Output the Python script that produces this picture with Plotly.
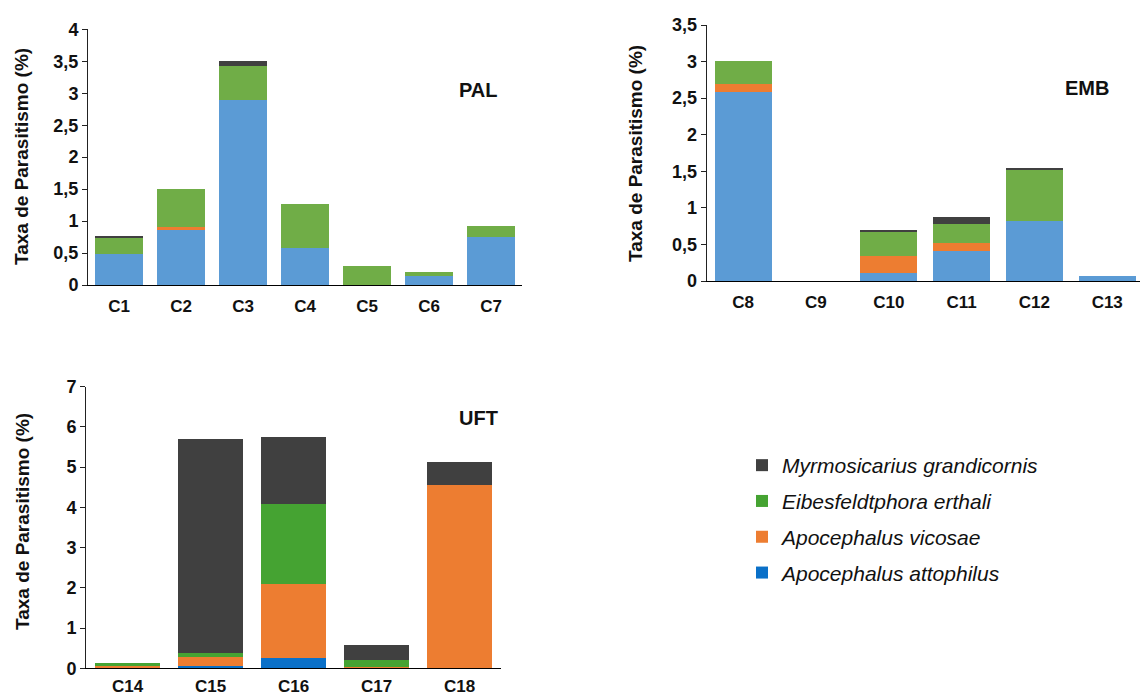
import plotly.graph_objects as go

# ---------------- data ----------------
species = ["Apocephalus attophilus", "Apocephalus vicosae",
           "Eibesfeldtphora erthali", "Myrmosicarius grandicornis"]
legend_rank = [4, 3, 2, 1]

pal_cats = ["C1", "C2", "C3", "C4", "C5", "C6", "C7"]
pal_attophilus = [0.49, 0.87, 2.89, 0.58, 0.00, 0.14, 0.75]
pal_vicosae = [0.00, 0.03, 0.00, 0.00, 0.00, 0.00, 0.00]
pal_erthali = [0.25, 0.60, 0.54, 0.68, 0.30, 0.07, 0.18]
pal_grandicornis = [0.01, 0.00, 0.07, 0.00, 0.00, 0.00, 0.00]

emb_cats = ["C8", "C9", "C10", "C11", "C12", "C13"]
emb_attophilus = [2.59, 0.00, 0.11, 0.41, 0.82, 0.07]
emb_vicosae = [0.11, 0.00, 0.23, 0.11, 0.00, 0.00]
emb_erthali = [0.31, 0.00, 0.33, 0.26, 0.70, 0.00]
emb_grandicornis = [0.00, 0.00, 0.02, 0.10, 0.03, 0.00]

uft_cats = ["C14", "C15", "C16", "C17", "C18"]
uft_attophilus = [0.03, 0.06, 0.25, 0.00, 0.00]
uft_vicosae = [0.03, 0.23, 1.84, 0.03, 4.55]
uft_erthali = [0.07, 0.08, 1.99, 0.18, 0.00]
uft_grandicornis = [0.00, 5.33, 1.68, 0.36, 0.58]

panel_labels = ["PAL", "EMB", "UFT"]
y_title = "Taxa de Parasitismo (%)"

# ---------------- styles ----------------
colors_light = ["#5B9BD5", "#ED7D31", "#70AD47", "#404040"]
colors_uft = ["#0A70C8", "#ED7D31", "#45A332", "#404040"]
FONT = "Liberation Sans, Arial, sans-serif"

fig = go.Figure()

panels = [
    (pal_cats, [pal_attophilus, pal_vicosae, pal_erthali, pal_grandicornis], "x", "y", colors_light, False),
    (emb_cats, [emb_attophilus, emb_vicosae, emb_erthali, emb_grandicornis], "x2", "y2", colors_light, False),
    (uft_cats, [uft_attophilus, uft_vicosae, uft_erthali, uft_grandicornis], "x3", "y3", colors_uft, True),
]

for cats, series, xa, ya, cols, show in panels:
    for i, (name, vals) in enumerate(zip(species, series)):
        fig.add_trace(go.Bar(
            x=cats, y=vals, name=name, xaxis=xa, yaxis=ya,
            marker=dict(color=cols[i], line=dict(width=0)),
            showlegend=show, legendgroup=name, legendrank=legend_rank[i],
        ))

xtickfont = dict(family=FONT, size=17, color="#111111", weight="bold")
ytickfont = dict(family=FONT, size=18, color="#111111", weight="bold")

def xaxis(domain, rng, anchor, ticklen=6):
    return dict(domain=domain, range=rng, anchor=anchor, showline=True,
                linecolor="#000000", linewidth=1, ticks="outside", ticklen=ticklen,
                tickcolor="rgba(0,0,0,0)", tickfont=xtickfont, showgrid=False,
                zeroline=False, fixedrange=True, automargin=False)

def yaxis(domain, rng, dtick, anchor):
    return dict(domain=domain, range=rng, dtick=dtick, anchor=anchor,
                showline=True, linecolor="#222222", linewidth=1,
                ticks="outside", ticklen=5, tickcolor="#222222",
                tickfont=ytickfont, showgrid=False, zeroline=False,
                fixedrange=True, automargin=False)

fig.update_layout(
    width=1140, height=696,
    margin=dict(l=0, r=0, t=0, b=0, autoexpand=False),
    paper_bgcolor="white", plot_bgcolor="white",
    barmode="stack", bargap=0.22,
    separators=", ",
    xaxis=xaxis([88 / 1140, 522 / 1140], [-0.5, 6.5], "y"),
    yaxis=yaxis([(696 - 285) / 696, (696 - 29.3) / 696], [0, 4], 0.5, "x"),
    xaxis2=xaxis([706.7 / 1140, 1.0], [-0.5, 5.45], "y2"),
    yaxis2=yaxis([(696 - 281) / 696, (696 - 25) / 696], [0, 3.5], 0.5, "x2"),
    xaxis3=xaxis([86 / 1140, 501 / 1140], [-0.5, 4.5], "y3", ticklen=2),
    yaxis3=yaxis([(696 - 668.3) / 696, (696 - 386.7) / 696], [0, 7], 1, "x3"),
    legend=dict(
        x=742 / 1140, y=(696 - 445) / 696, xanchor="left", yanchor="top",
        traceorder="grouped", tracegroupgap=5.5,
        font=dict(family=FONT, size=21, style="italic", color="#111111"),
        bgcolor="rgba(0,0,0,0)", itemclick=False, itemdoubleclick=False,
    ),
    font=dict(family=FONT),
)

label_font = dict(family=FONT, size=20, color="#111111", weight="bold")
for text, xp, yp in zip(panel_labels, [478, 1087, 478], [90, 88, 418]):
    fig.add_annotation(text=text, x=xp / 1140, y=(696 - yp) / 696,
                       xref="paper", yref="paper", showarrow=False,
                       xanchor="center", yanchor="middle", font=label_font)

title_font = dict(family=FONT, size=19, color="#111111", weight="bold")
for xp, yp in [(22, 157), (635, 154), (22, 522)]:
    fig.add_annotation(text=y_title, x=xp / 1140, y=(696 - yp) / 696,
                       xref="paper", yref="paper", showarrow=False,
                       textangle=-90, xanchor="center", yanchor="middle",
                       font=title_font)

fig.write_html("out.html")
